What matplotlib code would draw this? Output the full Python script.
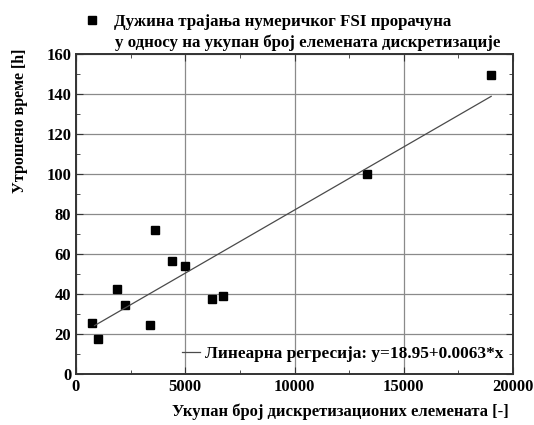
import numpy as np
import matplotlib
matplotlib.use("Agg")
import matplotlib.pyplot as plt
from matplotlib.ticker import MultipleLocator

plt.rcParams["font.family"] = ["Liberation Serif", "DejaVu Serif"]
plt.rcParams["font.weight"] = "bold"

# number of discretisation elements vs. computation time
elements = [730, 990, 1875, 2225, 3400, 3630, 4375, 5000, 6220, 6725, 13340, 19000]
hours = [25.8, 17.8, 42.6, 34.5, 24.7, 72.2, 56.6, 54.1, 37.8, 39.1, 100.0, 149.5]

series_label = ["Дужина трајања нумеричког FSI прорачуна",
                "у односу на укупан број елемената дискретизације"]

# linear regression y = a + b*x
reg_a = 18.95
reg_b = 0.0063

W, H = 534, 425
fig = plt.figure(figsize=(W / 100, H / 100), dpi=100)
ax = fig.add_axes([0.1423, 0.1193, 0.8184, 0.7547])

ax.grid(True, color="#8a8a8a", linewidth=0.9)
ax.set_axisbelow(True)

sc, = ax.plot(elements, hours, linestyle="none", marker="s", markersize=6.3,
              color="black", label=series_label[0])

x_fit = np.array([850, max(elements)])
ln, = ax.plot(x_fit, reg_a + reg_b * x_fit, color="#4a4a4a", linewidth=0.9,
              label="Линеарна регресија: y=18.95+0.0063*x")

ax.set_xlim(0, 20000)
ax.set_ylim(0, 160)
ax.xaxis.set_major_locator(MultipleLocator(5000))
ax.xaxis.set_minor_locator(MultipleLocator(2500))
ax.yaxis.set_major_locator(MultipleLocator(20))
ax.yaxis.set_minor_locator(MultipleLocator(10))
ax.tick_params(which="both", direction="in", top=True, right=True,
               labelsize=12, color="#333333")
ax.tick_params(which="major", length=5)
ax.tick_params(which="minor", length=3)
for lab in ax.get_xticklabels() + ax.get_yticklabels():
    lab.set_fontweight("bold")
for sp in ax.spines.values():
    sp.set_color("#333333")
    sp.set_linewidth(1.4)

ax.set_xlabel("Укупан број дискретизационих елемената [-]", fontsize=12, fontweight="bold")
ax.set_ylabel("Утрошено време [h]", fontsize=11.5, fontweight="bold")
ax.xaxis.set_label_coords(0.606, -0.09)
ax.yaxis.set_label_coords(-0.110, 0.79)

# series legend above the axes, label continues on a second line
leg1 = ax.legend(handles=[sc], loc="lower left", bbox_to_anchor=(84 / W, 1 - 30 / H),
                 bbox_transform=fig.transFigure, frameon=False, fontsize=12.2,
                 handlelength=1.0, handletextpad=0.8, borderaxespad=0.0, borderpad=0.0)
ax.add_artist(leg1)
fig.text(115 / W, 1 - 47 / H, series_label[1], fontsize=12.2, fontweight="bold",
         va="baseline", ha="left")

ax.legend(handles=[ln], loc="lower right", bbox_to_anchor=(0.993, 0.018),
          frameon=False, fontsize=12.4, handlelength=1.0, handletextpad=0.3,
          borderaxespad=0.0)

fig.savefig("out.png", dpi=100)
